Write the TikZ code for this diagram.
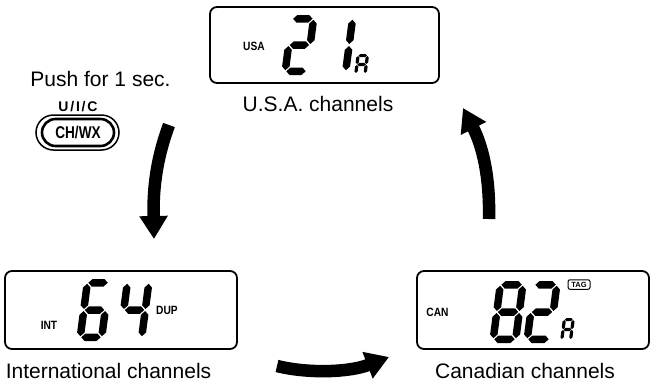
\documentclass[tikz,border=0pt]{standalone}
\usepackage{fontspec}
\usepackage{graphicx}
\setmainfont{Liberation Sans}
\usetikzlibrary{arrows.meta}
% seven-segment helpers (local y up)
\newcommand\segH[3]{\fill[segfill] ({#1},{#3}) -- ({#1+\dgT},{#3+\dgT}) -- ({#2-\dgT},{#3+\dgT}) -- ({#2},{#3}) -- ({#2-\dgT},{#3-\dgT}) -- ({#1+\dgT},{#3-\dgT}) -- cycle;}
\newcommand\segV[3]{\fill[segfill] ({#1},{#2}) -- ({#1+\dgT},{#2+\dgT}) -- ({#1+\dgT},{#3-\dgT}) -- ({#1},{#3}) -- ({#1-\dgT},{#3-\dgT}) -- ({#1-\dgT},{#2+\dgT}) -- cycle;}
\newcommand\segXa{\segH{\dgT+\dgG}{\dgW-\dgT-\dgG}{\dgH-\dgT}}
\newcommand\segXb{\segV{\dgW-\dgT}{\dgH/2+\dgG}{\dgH-\dgT-\dgG}}
\newcommand\segXc{\segV{\dgW-\dgT}{\dgT+\dgG}{\dgH/2-\dgG}}
\newcommand\segXd{\segH{\dgT+\dgG}{\dgW-\dgT-\dgG}{\dgT}}
\newcommand\segXe{\segV{\dgT}{\dgT+\dgG}{\dgH/2-\dgG}}
\newcommand\segXf{\segV{\dgT}{\dgH/2+\dgG}{\dgH-\dgT-\dgG}}
\newcommand\segXg{\segH{\dgT+\dgG}{\dgW-\dgT-\dgG}{\dgH/2}}
\newcommand\segdigit[6]{%
  \begin{scope}[shift={(#1,#2)},xslant=0.13,yscale=-1]
    \pgfmathsetmacro\dgW{#3}\pgfmathsetmacro\dgH{#4}%
    \pgfmathsetmacro\dgT{#5/2}\pgfmathsetmacro\dgG{0.14*#5}%
    \foreach \sg in {#6}{\csname segX\sg\endcsname}
  \end{scope}}
\begin{document}
\begin{tikzpicture}[x=1pt,y=-1pt,
  lcd/.style={draw, line width=1.8pt, rounded corners=7pt, inner sep=0pt},
  caption/.style={font=\fontsize{21}{25}\selectfont, anchor=base, inner sep=0pt},
  lcdlabel/.style={font=\bfseries\fontsize{12}{13}\selectfont, inner sep=0pt},
  bigarrow/.style={line width=12.5pt, -{Triangle[width=27pt,length=23pt]}},
  segfill/.style={fill=black}]
\useasboundingbox (0,0) rectangle (650,381);

% displays
\node[lcd, minimum width=229pt, minimum height=76pt] (usa) at (324.5,45) {};
\node[lcd, minimum width=232pt, minimum height=78pt] (int) at (121,310) {};
\node[lcd, minimum width=232pt, minimum height=78pt] (can) at (533,310) {};

% captions
\node[caption] (usacap) at (318,111.5) {U.S.A. channels};
\node[caption] (intcap) at (108.5,378) {International channels};
\node[caption] (cancap) at (525,378) {Canadian channels};
\node[caption] (push) at (100.5,86.7) {Push for 1 sec.};

% key
\node[font=\bfseries\fontsize{14}{16}\selectfont, anchor=base, inner sep=0pt] (uic) at (78,111.7) {U\kern1.8pt/\kern1.8ptI\kern1.8pt/\kern1.8ptC};
\node[draw, line width=1.5pt, rounded corners=17.5pt, minimum width=83pt, minimum height=35pt, inner sep=0pt] (keyout) at (77.5,132.5) {};
\node[draw, line width=2.6pt, rounded corners=13.5pt, minimum width=72pt, minimum height=27pt, inner sep=0pt, font=\bfseries\fontsize{17}{19}\selectfont] (key) at (78,132.5) {\scalebox{0.8}[1]{CH/WX}};

% LCD labels
\node[lcdlabel] (usalbl) at (254,46) {\scalebox{0.85}[1]{USA}};
\node[lcdlabel] (intlbl) at (49,325.5) {\scalebox{0.85}[1]{INT}};
\node[lcdlabel] (duplbl) at (167,310.5) {\scalebox{0.85}[1]{DUP}};
\node[lcdlabel] (canlbl) at (437.5,312) {\scalebox{0.85}[1]{CAN}};
\node[draw, line width=1pt, rounded corners=2pt, minimum width=22pt, minimum height=9.5pt, inner sep=0pt, font=\bfseries\fontsize{7.5}{8}\selectfont] (tag) at (579,284.5) {TAG};

% digits
\segdigit{281}{75}{29}{60}{7.5}{a,b,g,e,d}
\segdigit{320}{75}{29}{60}{7.5}{b,c}
\segdigit{354}{75}{12.5}{21}{3.2}{a,b,c,e,f,g}
\segdigit{76}{341}{29}{62}{7.5}{a,f,g,e,d,c}
\segdigit{116}{341}{29}{62}{7.5}{f,g,b,c}
\segdigit{489}{343}{30}{62}{7.5}{a,b,c,d,e,f,g}
\segdigit{523}{343}{30}{62}{7.5}{a,b,g,e,d}
\segdigit{560}{341}{12}{23}{3.2}{a,b,c,e,f,g}

% arrows
\coordinate (l1) at (169,125);
\coordinate (l2) at (154,239);
\coordinate (b1) at (277,366);
\coordinate (b2) at (389,357);
\coordinate (r1) at (489,219);
\coordinate (r2) at (463,108);
\draw[bigarrow] (l1) .. controls (156,160) and (153,190) .. (l2);
\draw[bigarrow] (b1) .. controls (310,374) and (350,372) .. (b2);
\draw[bigarrow] (r1) .. controls (490,175) and (482,145) .. (r2);
\end{tikzpicture}
\end{document}
